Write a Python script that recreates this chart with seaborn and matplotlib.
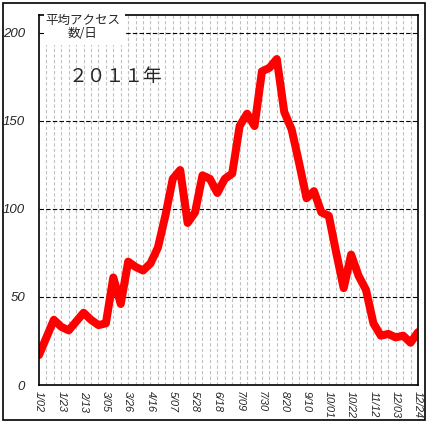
import numpy as np
import pandas as pd
import matplotlib
matplotlib.use("Agg")
import matplotlib.pyplot as plt
from matplotlib.patches import Rectangle
import seaborn as sns

# weekly average access counts, 2011
access = [17, 27, 37, 33, 31, 36, 41, 37, 34, 35, 61, 46, 70, 67, 65, 69, 78, 96,
          117, 122, 92, 98, 119, 117, 109, 117, 120, 147, 154, 147, 178, 180, 185,
          155, 145, 126, 106, 110, 98, 96, 75, 55, 74, 62, 54, 35, 28, 29, 27, 28,
          24, 30]
week = list(range(len(access)))

# tick labels (every third week)
tick_labels = ["1/02", "1/23", "2/13", "3/05", "3/26", "4/16", "5/07", "5/28", "6/18",
               "7/09", "7/30", "8/20", "9/10", "10/01", "10/22", "11/12", "12/03", "12/24"]
y_ticks = [0, 50, 100, 150, 200]

df = pd.DataFrame({"week": week, "access": access})

sns.set_style("white")
plt.rcParams["font.family"] = ["Noto Sans CJK JP", "DejaVu Sans"]

fig = plt.figure(figsize=(4.29, 4.24), dpi=100)
ax = fig.add_axes([39 / 429, 1 - 385 / 424, 379 / 429, 370 / 424])

# vertical week grid
for w in week[1:-1]:
    ax.axvline(w, color="#c0c0c0", lw=0.8, ls=(0, (3, 2)), zorder=1)
# horizontal grid
for v in y_ticks[1:]:
    ax.axhline(v, color="black", lw=0.8, ls=(0, (4, 2)), zorder=1)

sns.lineplot(data=df, x="week", y="access", color="#ff0000", lw=5.8, ax=ax, zorder=2)

ax.set_xlim(0, 51)
ax.set_ylim(0, 210)
ax.set_xticks(week[::3])
ax.set_xticklabels(tick_labels, rotation=270, fontstyle="italic", fontsize=7.8,
                   family="Liberation Sans", va="top", ha="center")
ax.set_yticks(y_ticks)
ax.set_yticklabels([str(v) for v in y_ticks], fontstyle="italic", fontsize=9.5,
                   family="Liberation Sans")
ax.tick_params(axis="both", length=0)
ax.tick_params(axis="x", pad=4)
ax.tick_params(axis="y", pad=10)
ax.set_xlabel("")
ax.set_ylabel("")
for s in ax.spines.values():
    s.set_color("black")
    s.set_linewidth(1.2)

# y axis title box
ax.add_patch(Rectangle((0.013, 0.919), 0.214, 0.1, transform=ax.transAxes,
                       facecolor="white", edgecolor="none", clip_on=False, zorder=5))
ax.text(0.116, 0.986, "平均アクセス", transform=ax.transAxes, ha="center", va="center",
        fontsize=9, zorder=6)
ax.text(0.116, 0.949, "数/日", transform=ax.transAxes, ha="center", va="center",
        fontsize=9, zorder=6)
ax.text(0.203, 0.835, "２０１１年", transform=ax.transAxes, ha="center", va="center",
        fontsize=13.5, zorder=6)

# outer frame
fig.patches.append(Rectangle((3 / 429, 4 / 424), 422 / 429, 417 / 424,
                             transform=fig.transFigure, fill=False,
                             edgecolor="black", lw=1.2))

fig.savefig("out.png", dpi=100)
